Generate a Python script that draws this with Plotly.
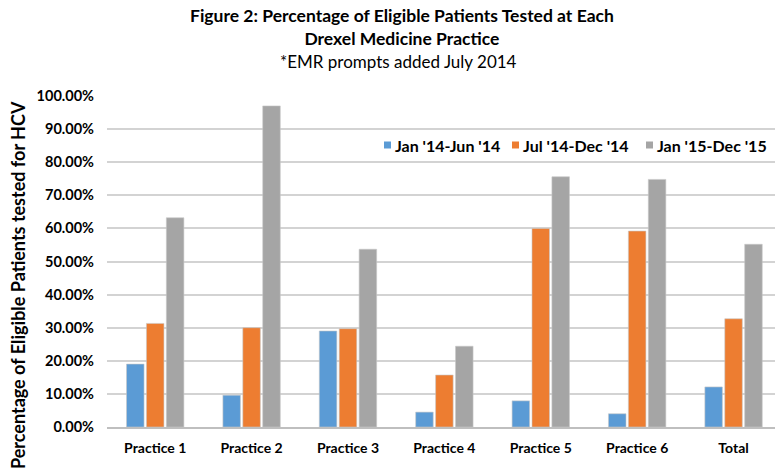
import plotly.graph_objects as go

categories = ["Practice 1", "Practice 2", "Practice 3", "Practice 4", "Practice 5", "Practice 6", "Total"]
series_names = ["Jan '14-Jun '14", "Jul '14-Dec '14", "Jan '15-Dec '15"]
jan14_jun14 = [0.190, 0.096, 0.290, 0.045, 0.079, 0.040, 0.121]
jul14_dec14 = [0.313, 0.300, 0.297, 0.157, 0.600, 0.592, 0.327]
jan15_dec15 = [0.632, 0.970, 0.537, 0.244, 0.756, 0.748, 0.552]
colors = ["#5B9BD5", "#ED7D31", "#A5A5A5"]
tick_vals = [i / 10 for i in range(11)]

FONT = "Lato"
W, H = 775, 469
L, R, T, B = 107, 0, 96, 42
PW, PH = W - L - R, H - T - B


def px(x):
    return (x - L) / PW


def py(y):
    return (H - B - y) / PH


fig = go.Figure()
for name, vals, col in zip(series_names, [jan14_jun14, jul14_dec14, jan15_dec15], colors):
    fig.add_trace(go.Bar(
        x=categories, y=vals, name=name,
        marker=dict(color=col, line=dict(color="#C8C8C8", width=0.6)),
    ))

fig.update_layout(
    width=W, height=H,
    margin=dict(l=L, r=R, t=T, b=B, autoexpand=False),
    paper_bgcolor="white", plot_bgcolor="white",
    barmode="group", bargap=0.38, bargroupgap=0.12,
    font=dict(family=FONT, color="#000000"),
    showlegend=False,
    xaxis=dict(
        range=[-0.5, 6.43], showgrid=False, showline=True, linecolor="#BFBFBF", linewidth=1.5,
        ticks="", ticklabelstandoff=7,
        tickfont=dict(family=FONT, size=14, color="#000000", weight="bold"),
        fixedrange=True,
    ),
    yaxis=dict(
        range=[0, 1.0], tickvals=tick_vals, tickformat=".2%",
        showgrid=True, gridcolor="#D3D3D3", gridwidth=1.6, zeroline=False,
        ticks="", ticklen=0, ticklabelstandoff=12,
        tickfont=dict(family=FONT, size=14.5, color="#000000", weight="bold"),
        fixedrange=True,
    ),
)

# Titles
fig.add_annotation(
    text="<b>Figure 2: Percentage of Eligible Patients Tested at Each<br>Drexel Medicine Practice</b>",
    xref="paper", yref="paper", x=px(402), y=py(3),
    xanchor="center", yanchor="top", showarrow=False,
    font=dict(family=FONT, size=17.5, color="#000000"), align="center",
)
fig.add_annotation(
    text="*EMR prompts added July 2014",
    xref="paper", yref="paper", x=px(398), y=py(62),
    xanchor="center", yanchor="middle", showarrow=False,
    font=dict(family=FONT, size=17, color="#000000"),
)
fig.add_annotation(
    text="<b>Percentage of Eligible Patients tested for HCV</b>",
    xref="paper", yref="paper", x=px(18), y=py(285),
    xanchor="center", yanchor="middle", showarrow=False, textangle=-90,
    font=dict(family=FONT, size=18, color="#000000"),
)

# Legend (keys and labels)
legend_text_x = [393, 521, 655]
legend_y = 145
for name, col, tx in zip(series_names, colors, legend_text_x):
    fig.add_shape(
        type="rect", xref="paper", yref="paper",
        x0=px(tx - 9), x1=px(tx - 2), y0=py(legend_y + 3.5), y1=py(legend_y - 3.5),
        fillcolor=col, line=dict(width=0),
    )
    fig.add_annotation(
        text="<b>" + name + "</b>", xref="paper", yref="paper",
        x=px(tx), y=py(legend_y), xanchor="left", yanchor="middle",
        showarrow=False, font=dict(family=FONT, size=16, color="#000000"),
    )

fig.write_html(
    "out.html",
    config={"displayModeBar": False},
    post_script="document.body.style.margin='0';document.body.style.padding='0';",
)
